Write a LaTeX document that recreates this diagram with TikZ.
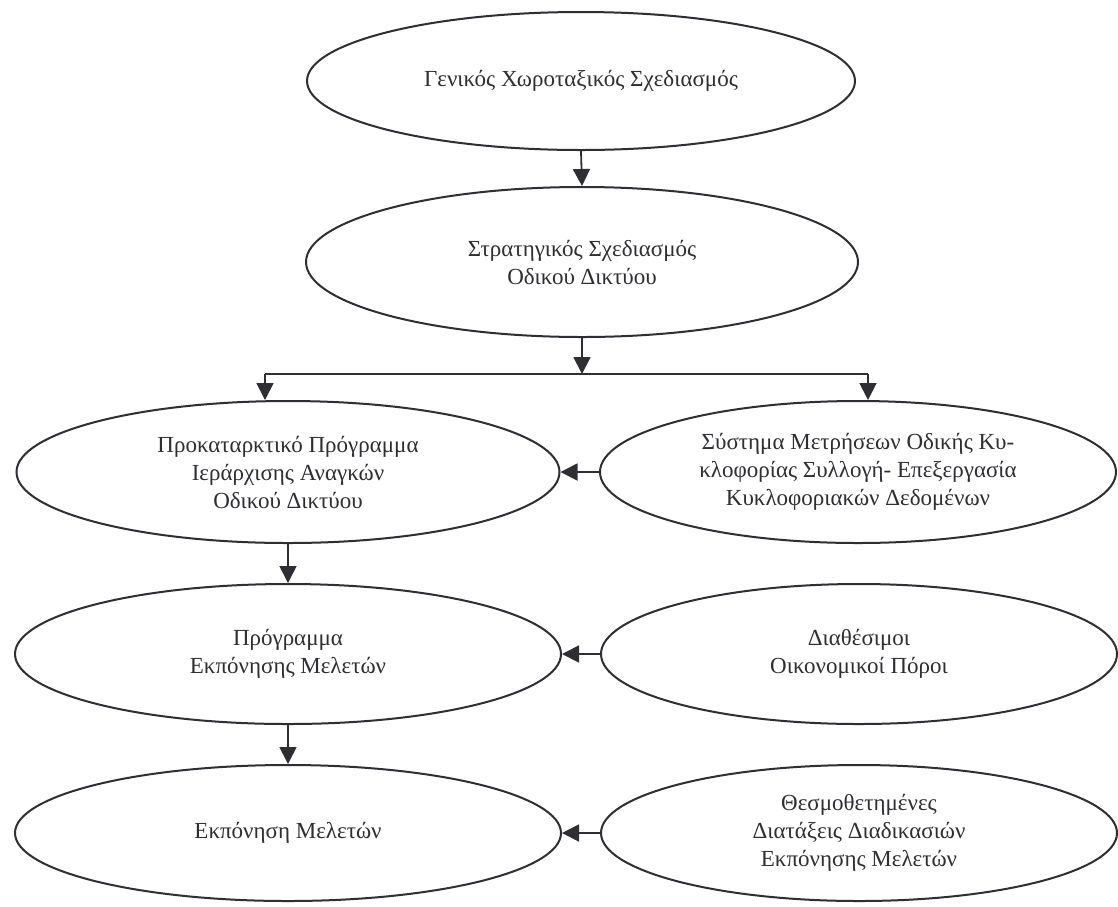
\documentclass[tikz,border=0pt]{standalone}
\usepackage{fontspec}
\setmainfont{Liberation Serif}
\usetikzlibrary{shapes.geometric,arrows.meta,calc}
\definecolor{ink}{HTML}{2E2E33}
\begin{document}
\begin{tikzpicture}[x=1pt,y=-1pt,
  oval/.style={ellipse,draw=ink,line width=2pt,inner sep=0pt,align=center,
     font=\fontsize{23}{28}\selectfont,text=ink},
  conn/.style={draw=ink,line width=1.8pt},
  arr/.style={conn,-{Triangle[length=17pt,width=17pt]}}]
\fill[white] (0,0) rectangle (1118,906);
\useasboundingbox (0,0) rectangle (1118,906);
\node[oval,minimum width=548pt,minimum height=138pt] (g1) at (581,81) {Γενικός Χωροταξικός Σχεδιασμός};
\node[oval,minimum width=552pt,minimum height=150pt] (g2) at (582,262) {Στρατηγικός Σχεδιασμός\\Οδικού Δικτύου};
\node[oval,minimum width=543pt,minimum height=142pt] (e3) at (288,472) {Προκαταρκτικό Πρόγραμμα\\Ιεράρχισης Αναγκών\\Οδικού Δικτύου};
\node[oval,minimum width=516pt,minimum height=142pt] (e4) at (858,472) {Σύστημα Μετρήσεων Οδικής Κυ-\\κλοφορίας Συλλογή- Επεξεργασία\\Κυκλοφοριακών Δεδομένων};
\node[oval,minimum width=546pt,minimum height=140pt] (e5) at (288,654) {Πρόγραμμα\\Εκπόνησης Μελετών};
\node[oval,minimum width=516pt,minimum height=140pt] (e7) at (859,654) {Διαθέσιμοι\\Οικονομικοί Πόροι};
\node[oval,minimum width=546pt,minimum height=136pt] (e6) at (288,833) {Εκπόνηση Μελετών};
\node[oval,minimum width=516pt,minimum height=136pt] (e8) at (859,833) {Θεσμοθετημένες\\Διατάξεις Διαδικασιών\\Εκπόνησης Μελετών};
\coordinate (s) at (582,374);
\coordinate (sl) at (265,374);
\coordinate (sr) at (868,374);
\draw[arr] (g1.south) -- (g2.north);
\draw[arr] (g2.south) -- (s);
\draw[conn] (sl) -- (sr);
\draw[arr] (sl) -- (sl |- e3.north);
\draw[arr] (sr) -- (sr |- e4.north);
\draw[arr] (e4.west) -- (e3.east);
\draw[arr] (e3.south) -- (e5.north);
\draw[arr] (e7.west) -- (e5.east);
\draw[arr] (e5.south) -- (e6.north);
\draw[arr] (e8.west) -- (e6.east);
\end{tikzpicture}
\end{document}
